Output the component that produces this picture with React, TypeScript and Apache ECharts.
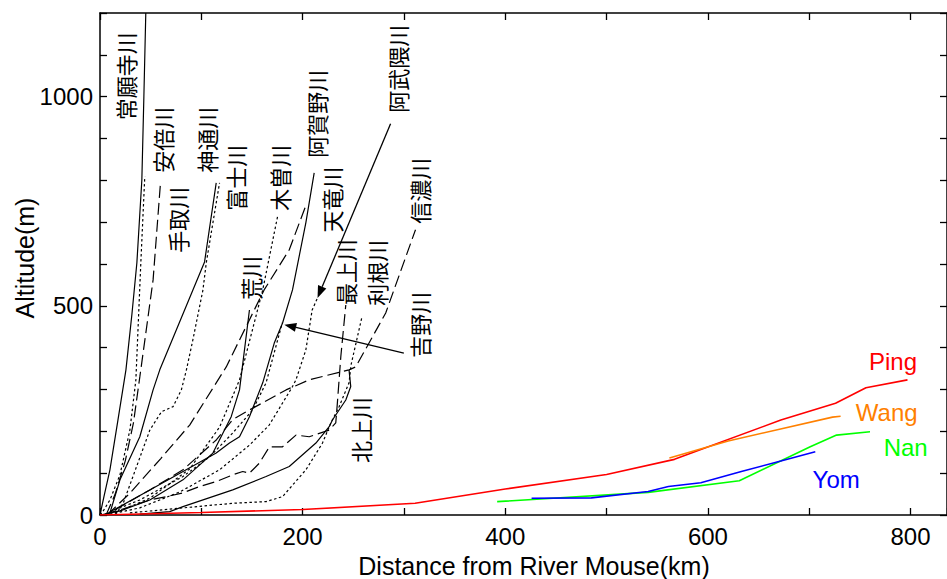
import React, { useEffect, useRef } from "react";
import * as echarts from "echarts";

// ---------- data (km from river mouth, altitude m) ----------
const jouganji = [[0, 0], [4, 45], [9.8, 108], [17.7, 227], [25.6, 347], [31.5, 480], [36.4, 603], [41.3, 801], [43.3, 1000], [45.2, 1200]];
const abe = [[0, 0], [2, 5], [9.8, 36], [19.7, 96], [29.5, 203], [35.4, 323], [40.3, 603], [44.2, 809]];
const tedori = [[6, 0], [15, 50], [25, 130], [33, 220], [39.3, 330], [52.4, 562], [59.7, 794]];
const jinzu = [[9.8, 5], [19.7, 84], [39.3, 187], [52.4, 299], [59, 347], [91.7, 538], [103.2, 605], [114.7, 794]];
const fuji = [[15, 0], [22.9, 28], [49.2, 203], [60.7, 247], [72.1, 259], [80.3, 299], [85.3, 347], [91.7, 419], [101.6, 538], [104.9, 603], [118, 794]];
const ara = [[0, 0], [20, 10], [49.2, 36], [81.9, 84], [111.4, 148], [129.5, 235], [137.7, 299], [147.5, 490]];
const kiso = [[14.7, 5], [49.2, 40], [88.5, 110], [118, 210], [137.7, 323], [160.6, 538], [175.3, 714]];
const yoshino = [[9.8, 7], [39.3, 36], [81.9, 92], [108.2, 139], [131, 196], [150.7, 251], [163.9, 316], [180, 460]];
const tenryu = [[9.8, 7], [49.2, 60], [114.7, 148], [127.8, 172], [137.7, 187], [147.5, 235], [160.6, 316], [172, 411], [180.2, 459], [190, 538], [203.2, 699], [211.4, 818]];
const agano = [[7, 0], [29.5, 52], [60, 135], [88.5, 215], [124.6, 354], [162, 538], [186.8, 634], [203.5, 742]];
const abukuma = [[9.8, 2], [39.3, 17], [78.7, 55], [118, 108], [147.5, 167], [167, 215], [182, 275], [190, 307], [193.4, 323], [203.2, 395], [209.4, 490], [214.7, 519]];
const shinano = [[14.7, 12], [49.2, 60], [81.9, 108], [115, 180], [131, 228], [147.5, 251], [183.6, 299], [206.5, 323], [245.8, 347], [252.4, 354], [282, 483], [311.4, 682]];
const tone = [[29.5, 5], [81.9, 17], [131, 28], [164, 32], [180.2, 44], [203.2, 108], [219.6, 172], [227.8, 220], [236, 259], [245.8, 316], [247.8, 359], [258.6, 474]];
const mogami = [[4.9, 2], [19.7, 12], [49.2, 36], [65.6, 44], [81.9, 53], [98.3, 68], [114.7, 80], [131, 96], [140.9, 104], [147.5, 100], [157.3, 124], [167.2, 163], [180.2, 163], [193.4, 191], [206.5, 187], [226.2, 203], [232.7, 220], [234.3, 268], [237.7, 379], [242.6, 502]];
const kitakami = [[39.3, 2], [68.8, 8], [81.9, 20], [131, 60], [163.9, 92], [186.8, 116], [213.1, 172], [226.2, 211], [229.4, 227], [242.6, 275], [247.5, 307], [245.8, 347]];

const ping = [[0, 0], [100, 6], [200, 13], [311, 28], [400, 62], [500, 97], [567, 133], [672, 227], [726, 267], [756, 304], [797, 323]];
const wang = [[562, 136], [620, 177], [723, 234], [731, 236]];
const nan = [[392, 32], [541, 54], [631, 82], [701, 163], [727, 191], [760, 199]];
const yom = [[426, 40], [485, 41], [541, 56], [561, 68], [593, 77], [633, 104], [672, 129], [706, 151]];

const xLabelTicks = [0, 200, 400, 600, 800];
const yLabelTicks = [0, 500, 1000];

// ---------- presentation ----------
const DOTTED = [2.5, 2.5];
const DASHED = [12, 5];

const jpSeries: [string, number[][], any][] = [
  ["常願寺川", jouganji, "solid"],
  ["安倍川", abe, DOTTED],
  ["手取川", tedori, DASHED],
  ["神通川", jinzu, "solid"],
  ["富士川", fuji, DOTTED],
  ["荒川", ara, "solid"],
  ["木曽川", kiso, DOTTED],
  ["吉野川", yoshino, DOTTED],
  ["天竜川", tenryu, "solid"],
  ["阿賀野川", agano, DASHED],
  ["阿武隈川", abukuma, DOTTED],
  ["信濃川", shinano, DASHED],
  ["利根川", tone, DOTTED],
  ["最上川", mogami, DASHED],
  ["北上川", kitakami, "solid"],
];

const thSeries: [string, number[][], string][] = [
  ["Ping", ping, "#ff0000"],
  ["Wang", wang, "#ff8000"],
  ["Nan", nan, "#00ff00"],
  ["Yom", yom, "#0000ff"],
];

// label anchors in data space
const jpLabelPos: [string, number, number][] = [
  ["常願寺川", 24.6, 1049],
  ["安倍川", 61, 897],
  ["手取川", 75.7, 706],
  ["神通川", 104.2, 897],
  ["富士川", 133.7, 806],
  ["木曽川", 177, 806],
  ["荒川", 148.5, 567],
  ["阿賀野川", 213.4, 959],
  ["阿武隈川", 293, 1067],
  ["天竜川", 228.1, 754],
  ["信濃川", 314.7, 775],
  ["最上川", 241.9, 581],
  ["利根川", 272.4, 579],
  ["吉野川", 314.7, 455],
  ["北上川", 256.6, 203],
];
const thLabelPos: [string, number, number, string][] = [
  ["Ping", 782.7, 368, "#ff0000"],
  ["Wang", 776.5, 245, "#ff8000"],
  ["Nan", 795.2, 161.5, "#00ff00"],
  ["Yom", 726.6, 86, "#0000ff"],
];
const arrows: [number, number, number, number][] = [
  [286.8, 935, 214.7, 519],
  [299.9, 387, 181.9, 455],
];

const FONT = '"Liberation Sans", Arial, sans-serif';
const JP_FONT = '"Noto Sans CJK JP", sans-serif';

export default function App() {
  const ref = useRef<HTMLDivElement>(null);
  useEffect(() => {
    document.body.style.margin = "0";
    document.body.style.overflow = "hidden";
    document.documentElement.style.overflow = "hidden";
    const chart = echarts.init(ref.current!, undefined, { renderer: "svg" });
    const axisLine = { onZero: false, lineStyle: { color: "#000", width: 1.5 } };
    const axisTick = { inside: true, length: 7, lineStyle: { color: "#000", width: 1.3 } };
    const series: any[] = [];
    jpSeries.forEach(([name, data, type]) => {
      series.push({
        name, type: "line", data, showSymbol: false, symbol: "none", silent: true,
        lineStyle: { color: "#000", width: 1.2, type },
        z: 2,
      });
    });
    thSeries.forEach(([name, data, color]) => {
      series.push({
        name, type: "line", data, showSymbol: false, symbol: "none", silent: true,
        lineStyle: { color, width: 1.6, type: "solid" },
        z: 3,
      });
    });
    chart.setOption({
      animation: false,
      grid: { left: 100, right: 0, top: 13, bottom: 64 },
      xAxis: [
        {
          type: "value", position: "bottom", min: 0, max: 836, interval: 100,
          axisLine, axisTick, splitLine: { show: false },
          axisLabel: {
            formatter: (v: number) => (xLabelTicks.includes(v) ? String(v) : ""),
            fontSize: 24, color: "#000", fontFamily: FONT, margin: 9,
          },
        },
        {
          type: "value", position: "top", min: 0, max: 836, interval: 100,
          axisLine, axisTick, splitLine: { show: false }, axisLabel: { show: false },
        },
      ],
      yAxis: [
        {
          type: "value", position: "left", min: 0, max: 1200, interval: 100,
          axisLine, axisTick, splitLine: { show: false },
          axisLabel: {
            formatter: (v: number) => (yLabelTicks.includes(v) ? String(v) : ""),
            fontSize: 24, color: "#000", fontFamily: FONT, margin: 7,
          },
        },
        {
          type: "value", position: "right", min: 0, max: 1200, interval: 100,
          axisLine, axisTick, splitLine: { show: false }, axisLabel: { show: false },
        },
      ],
      series,
    });

    const toPx = (x: number, y: number) =>
      chart.convertToPixel({ xAxisIndex: 0, yAxisIndex: 0 }, [x, y]) as number[];
    const graphic: any[] = [];
    jpLabelPos.forEach(([t, x, y]) => {
      const [px, py] = toPx(x, y);
      graphic.push({
        type: "text", x: px, y: py, rotation: Math.PI / 2, z: 10,
        style: { text: t, fontSize: 22, fontFamily: JP_FONT, fill: "#000", align: "center", verticalAlign: "middle" },
      });
    });
    thLabelPos.forEach(([t, x, y, c]) => {
      const [px, py] = toPx(x, y);
      graphic.push({
        type: "text", x: px, y: py, z: 10,
        style: { text: t, fontSize: 24, fontFamily: FONT, fill: c, align: "center", verticalAlign: "middle" },
      });
    });
    arrows.forEach(([x0, y0, x1, y1]) => {
      const [sx, sy] = toPx(x0, y0);
      const [tx, ty] = toPx(x1, y1);
      const dx = tx - sx, dy = ty - sy;
      const L = Math.hypot(dx, dy);
      const ux = dx / L, uy = dy / L;
      const len = 12, hw = 4.5;
      const bx = tx - ux * len, by = ty - uy * len;
      graphic.push({ type: "line", z: 10, shape: { x1: sx, y1: sy, x2: bx, y2: by }, style: { stroke: "#000", lineWidth: 1.3 } });
      graphic.push({
        type: "polygon", z: 10,
        shape: { points: [[tx, ty], [bx - uy * hw, by + ux * hw], [bx + uy * hw, by - ux * hw]] },
        style: { fill: "#000" },
      });
    });
    graphic.push({
      type: "text", x: 534, y: 566, z: 10,
      style: { text: "Distance from River Mouse(km)", fontSize: 25, fontFamily: FONT, fill: "#000", align: "center", verticalAlign: "middle" },
    });
    graphic.push({
      type: "text", x: 25, y: 258, rotation: Math.PI / 2, z: 10,
      style: { text: "Altitude(m)", fontSize: 25, fontFamily: FONT, fill: "#000", align: "center", verticalAlign: "middle" },
    });
    chart.setOption({ graphic });
    return () => chart.dispose();
  }, []);
  return <div ref={ref} style={{ width: 950, height: 579 }} />;
}
